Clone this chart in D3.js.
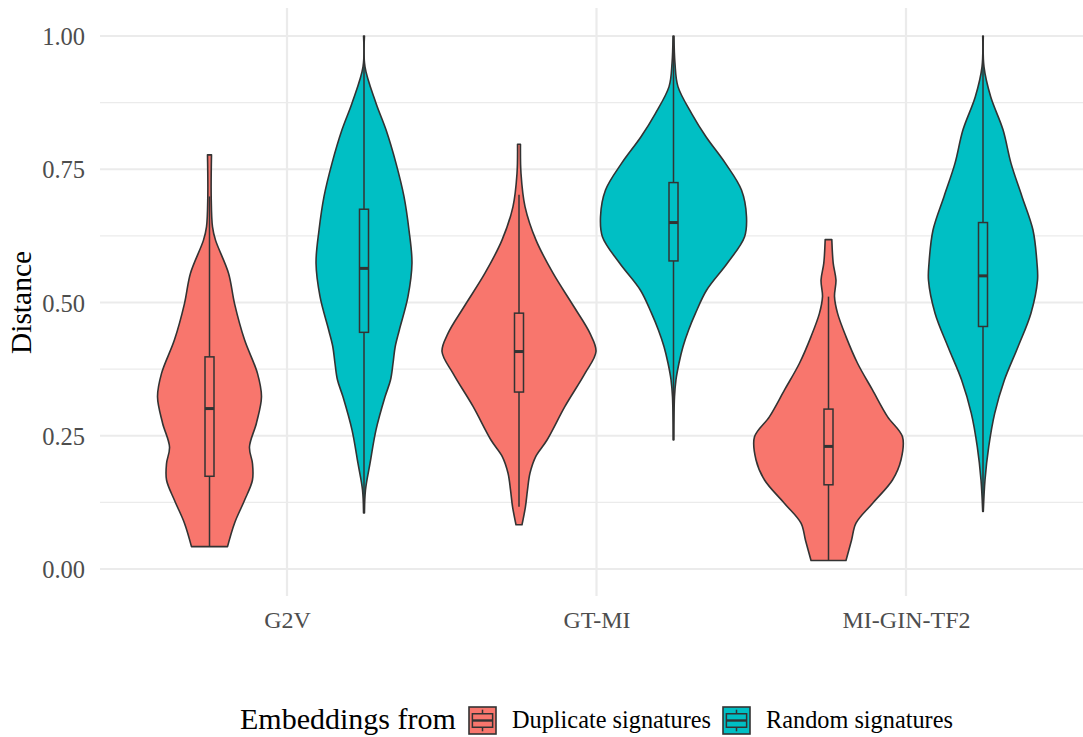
<!DOCTYPE html>
<html>
<head>
<meta charset="utf-8">
<script src="https://cdn.jsdelivr.net/npm/d3@7"></script>
<style>
  html, body { margin: 0; padding: 0; background: #ffffff; }
  svg { display: block; }
</style>
</head>
<body>
<svg id="chart" width="1083" height="737"></svg>
<script>
// Distance distributions of embeddings, per model and signature source.
const categories = ["G2V", "GT-MI", "MI-GIN-TF2"];
const groups = ["Duplicate signatures", "Random signatures"];
const groupColors = ["#F8766D", "#00BFC4"];
const yTicks = [0, 0.25, 0.5, 0.75, 1];
const yTickLabels = ["0.00", "0.25", "0.50", "0.75", "1.00"];
const yMinorTicks = [0.125, 0.375, 0.625, 0.875];

// Kernel density profiles: [distance, relative density] (area-scaled, max = 1)
const densG2VDup = [
  [0.042, 0.234], [0.086, 0.325], [0.129, 0.455], [0.167, 0.558], [0.198, 0.558],
  [0.229, 0.519], [0.274, 0.610], [0.323, 0.675], [0.367, 0.623], [0.430, 0.455],
  [0.498, 0.325], [0.555, 0.247], [0.617, 0.078], [0.642, 0.039], [0.699, 0.022],
  [0.777, 0.026]
];
const densG2VRand = [
  [0.105, 0.006], [0.148, 0.019], [0.198, 0.078], [0.261, 0.156], [0.323, 0.273],
  [0.355, 0.345], [0.386, 0.377], [0.417, 0.405], [0.448, 0.458], [0.511, 0.571],
  [0.574, 0.623], [0.636, 0.584], [0.699, 0.519], [0.761, 0.416], [0.824, 0.286],
  [0.874, 0.156], [0.942, 0.013], [1.000, 0.006]
];
const densGTMIDup = [
  [0.083, 0.039], [0.117, 0.084], [0.148, 0.110], [0.180, 0.143], [0.211, 0.217],
  [0.242, 0.364], [0.305, 0.597], [0.367, 0.857], [0.408, 1.000], [0.442, 0.922],
  [0.492, 0.714], [0.555, 0.442], [0.617, 0.221], [0.680, 0.078], [0.742, 0.026],
  [0.797, 0.019]
];
const densGTMIRand = [
  [0.242, 0.004], [0.323, 0.013], [0.355, 0.032], [0.386, 0.071], [0.417, 0.123],
  [0.448, 0.195], [0.480, 0.286], [0.523, 0.429], [0.574, 0.701], [0.623, 0.922],
  [0.661, 0.948], [0.711, 0.883], [0.761, 0.675], [0.811, 0.422], [0.855, 0.234],
  [0.905, 0.058], [0.949, 0.019], [1.000, 0.006]
];
const densMIGINDup = [
  [0.016, 0.227], [0.054, 0.299], [0.086, 0.357], [0.123, 0.571], [0.167, 0.831],
  [0.205, 0.942], [0.248, 0.961], [0.286, 0.766], [0.336, 0.571], [0.386, 0.377],
  [0.436, 0.227], [0.480, 0.117], [0.511, 0.078], [0.542, 0.097], [0.574, 0.061],
  [0.618, 0.043]
];
const densMIGINRand = [
  [0.108, 0.004], [0.167, 0.026], [0.229, 0.074], [0.292, 0.152], [0.355, 0.279],
  [0.417, 0.455], [0.480, 0.623], [0.542, 0.708], [0.574, 0.701], [0.636, 0.649],
  [0.699, 0.506], [0.761, 0.364], [0.824, 0.260], [0.886, 0.100], [0.942, 0.013],
  [1.000, 0.004]
];

// Boxplot summaries: [lower whisker, Q1, median, Q3, upper whisker]
const boxG2VDup = [0.042, 0.174, 0.301, 0.398, 0.699];
const boxG2VRand = [0.105, 0.444, 0.564, 0.675, 1.000];
const boxGTMIDup = [0.117, 0.332, 0.408, 0.480, 0.702];
const boxGTMIRand = [0.242, 0.578, 0.650, 0.725, 1.000];
const boxMIGINDup = [0.016, 0.158, 0.230, 0.300, 0.511];
const boxMIGINRand = [0.108, 0.455, 0.550, 0.650, 1.000];

const violins = [
  { cat: "G2V", grp: 0, dens: densG2VDup, box: boxG2VDup },
  { cat: "G2V", grp: 1, dens: densG2VRand, box: boxG2VRand },
  { cat: "GT-MI", grp: 0, dens: densGTMIDup, box: boxGTMIDup },
  { cat: "GT-MI", grp: 1, dens: densGTMIRand, box: boxGTMIRand },
  { cat: "MI-GIN-TF2", grp: 0, dens: densMIGINDup, box: boxMIGINDup },
  { cat: "MI-GIN-TF2", grp: 1, dens: densMIGINRand, box: boxMIGINRand }
];

const panel = { left: 100, right: 1083, top: 8, bottom: 596 };
const svg = d3.select("#chart");
const fontFamily = "'Liberation Serif', 'Times New Roman', serif";
const outline = "#333333";

const y = d3.scaleLinear().domain([0, 1]).range([569, 36]);
const x = d3.scalePoint().domain(categories).range([287, 906]);
const dodge = d3.scalePoint().domain(groups).range([-77.5, 77]);
const wScale = d3.scaleLinear().domain([0, 1]).range([0, 77]);
const boxHalf = 4.5;

// Grid
const grid = svg.append("g");
grid.selectAll("line.minor").data(yMinorTicks).join("line")
  .attr("x1", panel.left).attr("x2", panel.right)
  .attr("y1", d => y(d)).attr("y2", d => y(d))
  .attr("stroke", "#EBEBEB").attr("stroke-width", 1.2);
grid.selectAll("line.majorY").data(yTicks).join("line")
  .attr("x1", panel.left).attr("x2", panel.right)
  .attr("y1", d => y(d)).attr("y2", d => y(d))
  .attr("stroke", "#EBEBEB").attr("stroke-width", 2.2);
grid.selectAll("line.majorX").data(categories).join("line")
  .attr("x1", d => x(d)).attr("x2", d => x(d))
  .attr("y1", panel.top).attr("y2", panel.bottom)
  .attr("stroke", "#EBEBEB").attr("stroke-width", 2.2);

// Violins
const vg = svg.append("g");
violins.forEach(v => {
  const cx = x(v.cat) + dodge(groups[v.grp]);
  const area = d3.area()
    .y(d => y(d[0]))
    .x0(d => cx - wScale(d[1]))
    .x1(d => cx + wScale(d[1]))
    .curve(d3.curveCatmullRom.alpha(0.5));
  vg.append("path")
    .attr("d", area(v.dens))
    .attr("fill", groupColors[v.grp])
    .attr("stroke", outline)
    .attr("stroke-width", 1.6)
    .attr("stroke-linejoin", "round");
});

// Boxplots
const bg = svg.append("g");
violins.forEach(v => {
  const cx = x(v.cat) + dodge(groups[v.grp]);
  const [lo, q1, med, q3, hi] = v.box;
  bg.append("line")
    .attr("x1", cx).attr("x2", cx).attr("y1", y(hi)).attr("y2", y(q3))
    .attr("stroke", outline).attr("stroke-width", 1.5);
  bg.append("line")
    .attr("x1", cx).attr("x2", cx).attr("y1", y(q1)).attr("y2", y(lo))
    .attr("stroke", outline).attr("stroke-width", 1.5);
  bg.append("rect")
    .attr("x", cx - boxHalf).attr("width", boxHalf * 2)
    .attr("y", y(q3)).attr("height", y(q1) - y(q3))
    .attr("fill", groupColors[v.grp])
    .attr("stroke", outline).attr("stroke-width", 1.5);
  bg.append("line")
    .attr("x1", cx - boxHalf).attr("x2", cx + boxHalf)
    .attr("y1", y(med)).attr("y2", y(med))
    .attr("stroke", outline).attr("stroke-width", 3);
});

// Axes
const yAxis = d3.axisLeft(y).tickValues(yTicks)
  .tickFormat((d, i) => yTickLabels[i]).tickSize(0).tickPadding(15);
const ya = svg.append("g").attr("transform", `translate(${panel.left},0)`).call(yAxis);
ya.select(".domain").remove();
ya.selectAll("text").attr("font-family", fontFamily).attr("font-size", 24.5)
  .attr("fill", "#4D4D4D").attr("dy", "0.35em");

const xAxis = d3.axisBottom(x).tickSize(0).tickPadding(0);
const xa = svg.append("g").attr("transform", `translate(0,${panel.bottom})`).call(xAxis);
xa.select(".domain").remove();
xa.selectAll("text").attr("font-family", fontFamily).attr("font-size", 24)
  .attr("fill", "#4D4D4D").attr("y", 32).attr("dy", 0);

// Axis title
svg.append("text")
  .attr("transform", `translate(31,${(y(0) + y(1)) / 2}) rotate(-90)`)
  .attr("text-anchor", "middle")
  .attr("font-family", fontFamily).attr("font-size", 29.5)
  .attr("fill", "#000000")
  .text("Distance");

// Legend
const legend = svg.append("g");
const legendBaseline = 729;
legend.append("text")
  .attr("x", 240).attr("y", legendBaseline)
  .attr("font-family", fontFamily).attr("font-size", 30)
  .attr("fill", "#000000")
  .text("Embeddings from");
const keySize = 27;
const keyX = [469, 723];
const labelX = [512, 766];
groups.forEach((g, i) => {
  const kx = keyX[i], ky = 707;
  const k = legend.append("g");
  k.append("rect").attr("x", kx).attr("y", ky).attr("width", keySize).attr("height", keySize)
    .attr("fill", groupColors[i]).attr("stroke", outline).attr("stroke-width", 1.6);
  const mid = kx + keySize / 2;
  k.append("line").attr("x1", mid).attr("x2", mid)
    .attr("y1", ky + keySize * 0.1).attr("y2", ky + keySize * 0.25)
    .attr("stroke", outline).attr("stroke-width", 1.5);
  k.append("line").attr("x1", mid).attr("x2", mid)
    .attr("y1", ky + keySize * 0.75).attr("y2", ky + keySize * 0.9)
    .attr("stroke", outline).attr("stroke-width", 1.5);
  k.append("rect")
    .attr("x", kx + keySize * 0.125).attr("y", ky + keySize * 0.25)
    .attr("width", keySize * 0.75).attr("height", keySize * 0.5)
    .attr("fill", groupColors[i]).attr("stroke", outline).attr("stroke-width", 1.5);
  k.append("line")
    .attr("x1", kx + keySize * 0.125).attr("x2", kx + keySize * 0.875)
    .attr("y1", ky + keySize * 0.5).attr("y2", ky + keySize * 0.5)
    .attr("stroke", outline).attr("stroke-width", 2.4);
  legend.append("text")
    .attr("x", labelX[i]).attr("y", legendBaseline - 1)
    .attr("font-family", fontFamily).attr("font-size", 24.3)
    .attr("fill", "#000000")
    .text(g);
});
</script>
</body>
</html>
